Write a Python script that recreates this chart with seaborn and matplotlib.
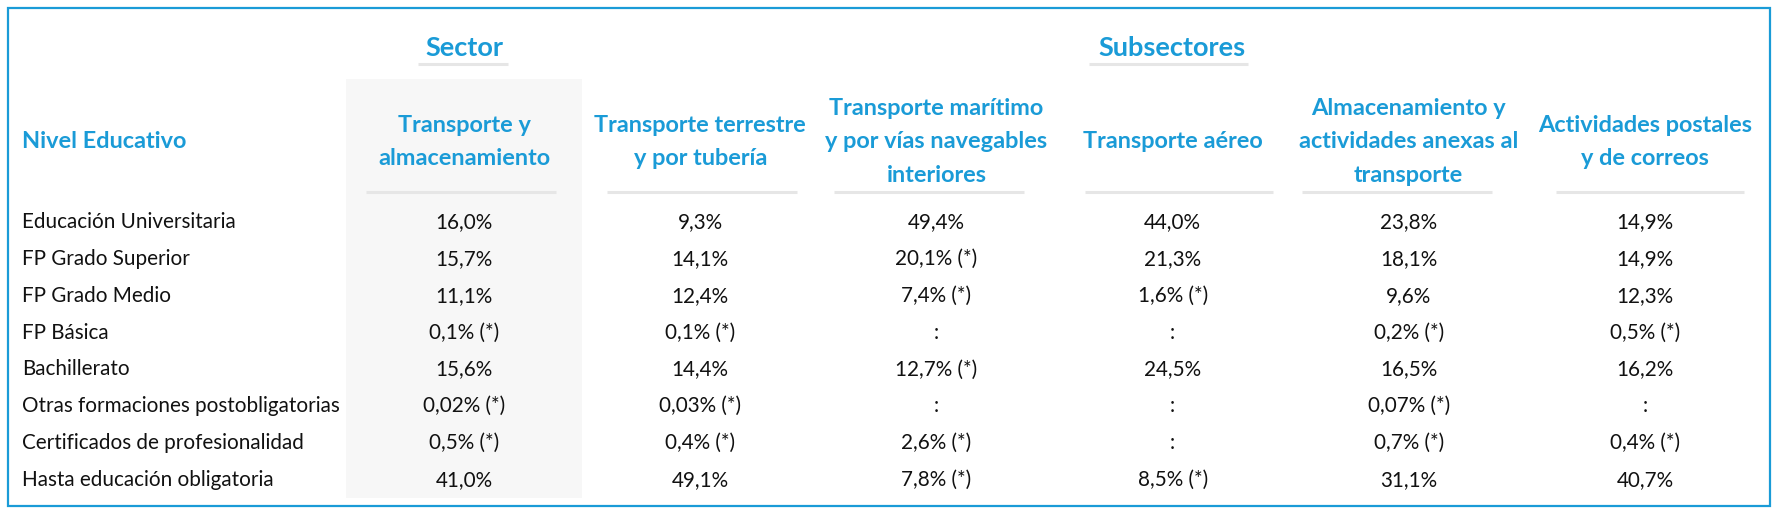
import numpy as np
import pandas as pd
import seaborn as sns
import matplotlib.pyplot as plt
from matplotlib.colors import ListedColormap
from matplotlib.patches import Rectangle

# filas y columnas de la tabla
niveles = ["Educación Universitaria", "FP Grado Superior", "FP Grado Medio", "FP Básica",
           "Bachillerato", "Otras formaciones postobligatorias",
           "Certificados de profesionalidad", "Hasta educación obligatoria"]
columnas = ["Transporte y\nalmacenamiento", "Transporte terrestre\ny por tubería",
            "Transporte marítimo\ny por vías navegables\ninteriores", "Transporte aéreo",
            "Almacenamiento y\nactividades anexas al\ntransporte", "Actividades postales\ny de correos"]

sector_total = ["16,0%", "15,7%", "11,1%", "0,1% (*)", "15,6%", "0,02% (*)", "0,5% (*)", "41,0%"]
terrestre = ["9,3%", "14,1%", "12,4%", "0,1% (*)", "14,4%", "0,03% (*)", "0,4% (*)", "49,1%"]
maritimo = ["49,4%", "20,1% (*)", "7,4% (*)", ":", "12,7% (*)", ":", "2,6% (*)", "7,8% (*)"]
aereo = ["44,0%", "21,3%", "1,6% (*)", ":", "24,5%", ":", ":", "8,5% (*)"]
almacenamiento = ["23,8%", "18,1%", "9,6%", "0,2% (*)", "16,5%", "0,07% (*)", "0,7% (*)", "31,1%"]
postales = ["14,9%", "14,9%", "12,3%", "0,5% (*)", "16,2%", ":", "0,4% (*)", "40,7%"]

azul = "#1a9bd7"
gris = "#f7f7f7"
linea = "#e6e6e6"
fs_cuerpo = 14.9
fs_cabecera = 16.9

sns.set_theme(style="white")
plt.rcParams["font.family"] = ["Lato", "DejaVu Sans"]

tabla = pd.DataFrame(
    np.array([sector_total, terrestre, maritimo, aereo, almacenamiento, postales]).T,
    index=niveles, columns=columnas)
fondo = np.zeros(tabla.shape)
fondo[:, 0] = 1  # columna del sector en gris

W, H = 1777, 516
fig = plt.figure(figsize=(W / 100, H / 100), dpi=100)

# capa de fondo en pixeles: marco, titulos, subrayados
bg = fig.add_axes([0, 0, 1, 1])
bg.set_xlim(0, W)
bg.set_ylim(H, 0)
bg.axis("off")
bg.add_patch(Rectangle((8, 8), 1762, 498, fill=False, ec=azul, lw=1.6))
bg.add_patch(Rectangle((346, 79), 236.2, 125, fc=gris, ec="none"))
bg.text(22, 142, "Nivel Educativo", color=azul, fontsize=fs_cabecera, fontweight="bold", va="center")
bg.text(464, 48, "Sector", color=azul, fontsize=19.5, fontweight="bold", ha="center", va="center")
bg.text(1172, 48, "Subsectores", color=azul, fontsize=19.5, fontweight="bold", ha="center", va="center")
bg.hlines(64, 418, 508, color=linea, lw=2.2)
bg.hlines(64, 1089, 1248, color=linea, lw=2.2)
for x0, x1 in [(366, 556), (607, 797), (834, 1024), (1085, 1273), (1302, 1492), (1556, 1744)]:
    bg.hlines(192, x0, x1, color=linea, lw=2.2)

# la tabla como heatmap
left, right = 346.0, 1763.0
top, bottom = 203.6, 498.4
ax = fig.add_axes([left / W, 1 - bottom / H, (right - left) / W, (bottom - top) / H])
sns.heatmap(fondo, ax=ax, cmap=ListedColormap(["white", gris]), cbar=False,
            annot=tabla.values, fmt="", annot_kws={"fontsize": fs_cuerpo, "color": "#111111"},
            xticklabels=columnas, yticklabels=niveles, linewidths=0)

ax.tick_params(axis="x", top=True, labeltop=True, bottom=False, labelbottom=False,
               length=0, pad=(top - 142) * 0.72)
for lab in ax.get_xticklabels():
    lab.set_rotation(0)
    lab.set_va("center")
    lab.set_ha("center")
    lab.set_color(azul)
    lab.set_fontweight("bold")
    lab.set_fontsize(fs_cabecera)
    lab.set_linespacing(1.76)

ax.tick_params(axis="y", left=True, length=0, pad=(left - 22) * 0.72)
for lab in ax.get_yticklabels():
    lab.set_rotation(0)
    lab.set_ha("left")
    lab.set_fontsize(fs_cuerpo)
    lab.set_color("#111111")

fig.savefig("out.png", dpi=100)
